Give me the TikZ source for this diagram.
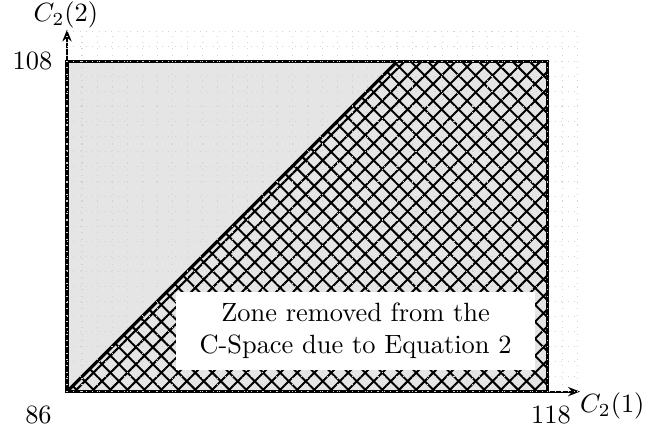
\documentclass[tikz,border=0pt]{standalone}
\usetikzlibrary{patterns.meta,arrows.meta}
\begin{document}
\begin{tikzpicture}[x=0.2cm,y=0.2cm,
  gridline/.style={gray!35,dotted,line width=0.4pt},
  border/.style={black,line width=1.2pt},
  axisline/.style={black,line width=0.8pt,-{Stealth[length=4.5pt,width=3.5pt]}},
  hatchzone/.style={pattern={Hatch[angle=45,distance=4.55pt,line width=0.75pt]},pattern color=black},
  zonebox/.style={fill=white,align=center,minimum width=136pt,minimum height=29.5pt,inner sep=0pt},
  lbl/.style={inner sep=0pt}]
\useasboundingbox (-4.46,-2.70) rectangle (39.01,26.07);
% corner coordinates
\coordinate (O) at (0,0);
\coordinate (BR) at (32,0);
\coordinate (TR) at (32,22);
\coordinate (TL) at (0,22);
\coordinate (TD) at (22,22);
\coordinate (XE) at (34.15,0);
\coordinate (YE) at (0,24.1);
% fills
\fill[gray!20] (O) rectangle (TR);
\fill[hatchzone] (O) -- (BR) -- (TR) -- (TD) -- cycle;
\draw[line width=1.2pt] (O) -- (TD);
\draw[border] (O) rectangle (TR);
% axes
\draw[axisline] (O) -- (XE);
\draw[axisline] (O) -- (YE);
% grid
\draw[gridline] (0,0) grid[step=1] (34,24);
% labels
\node[lbl] (ylab) at (-0.07,25.05) {$C_2(2)$};
\node[lbl] (xlab) at (36.3,-0.97) {$C_2(1)$};
\node[lbl] (l108) at (-2.3,22.0) {108};
\node[lbl] (l86) at (-1.9,-1.56) {86};
\node[lbl] (l118) at (32.22,-1.56) {118};
% text box
\node[zonebox] (zone) at (19.21,4.03) {Zone removed from the\\C-Space due to Equation 2};
\end{tikzpicture}
\end{document}
